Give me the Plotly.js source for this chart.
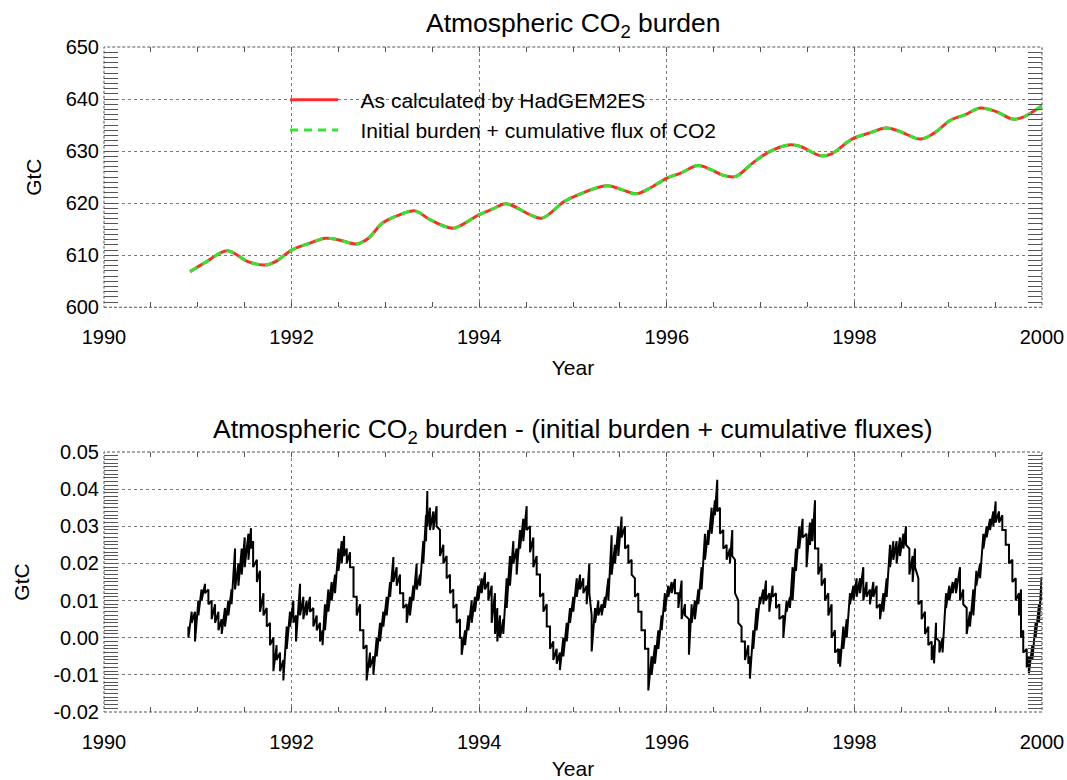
<!DOCTYPE html>
<html>
<head>
<meta charset="utf-8">
<script src="https://cdn.plot.ly/plotly-3.0.1.min.js"></script>
<style>
  html, body { margin: 0; padding: 0; background: #fff; }
  #chart { width: 1067px; height: 780px; }
</style>
</head>
<body>
<div id="chart"></div>
<script>
// top panel: atmospheric CO2 burden (GtC)
var burdenYears = [1990.918, 1991.094, 1991.314, 1991.534, 1991.718, 1991.828, 1992.004, 1992.195, 1992.360, 1992.507,
  1992.691, 1992.820, 1992.966, 1993.150, 1993.316, 1993.480, 1993.719, 1993.848, 1993.995, 1994.141,
  1994.288, 1994.545, 1994.670, 1994.906, 1995.053, 1995.362, 1995.528, 1995.674, 1995.820, 1996.002,
  1996.148, 1996.330, 1996.477, 1996.586, 1996.732, 1996.914, 1997.097, 1997.316, 1997.425, 1997.645,
  1997.755, 1997.974, 1998.156, 1998.339, 1998.485, 1998.704, 1998.850, 1999.032, 1999.179, 1999.342,
  1999.507, 1999.690, 1999.800, 2000.000];
var burdenModel = [606.85, 608.77, 610.88, 608.77, 608.13, 608.77, 611.02, 612.31, 613.27, 612.94,
  612.17, 613.27, 616.15, 617.75, 618.52, 616.79, 615.19, 616.15, 617.75, 618.85,
  619.87, 617.75, 617.12, 620.31, 621.60, 623.33, 622.56, 621.79, 622.88, 624.81,
  625.77, 627.23, 626.40, 625.44, 625.12, 627.69, 629.92, 631.21, 630.88, 629.10,
  629.48, 632.31, 633.46, 634.42, 633.77, 632.31, 633.46, 636.02, 636.98, 638.27,
  637.62, 636.15, 636.54, 638.71];
// the dashed green curve sits on top of the red one at this scale
var burdenFlux = [606.85, 608.77, 610.88, 608.77, 608.13, 608.77, 611.02, 612.31, 613.27, 612.94,
  612.17, 613.27, 616.15, 617.75, 618.52, 616.79, 615.19, 616.15, 617.75, 618.85,
  619.87, 617.75, 617.12, 620.31, 621.60, 623.33, 622.56, 621.79, 622.88, 624.81,
  625.77, 627.23, 626.40, 625.44, 625.12, 627.69, 629.92, 631.21, 630.88, 629.10,
  629.48, 632.31, 633.46, 634.42, 633.77, 632.31, 633.46, 636.02, 636.98, 638.27,
  637.62, 636.15, 636.54, 638.71];

// bottom panel: difference (GtC), noisy band read as upper / lower edge
var diffYears = [1990.900, 1990.935, 1990.970, 1991.006, 1991.040, 1991.077, 1991.113, 1991.148, 1991.184, 1991.220,
  1991.255, 1991.290, 1991.326, 1991.360, 1991.397, 1991.433, 1991.468, 1991.500, 1991.540, 1991.567,
  1991.590, 1991.630, 1991.663, 1991.700, 1991.735, 1991.770, 1991.806, 1991.840, 1991.877, 1991.912,
  1991.948, 1991.983, 1992.019, 1992.047, 1992.090, 1992.125, 1992.160, 1992.196, 1992.232, 1992.268,
  1992.303, 1992.330, 1992.356, 1992.392, 1992.427, 1992.463, 1992.500, 1992.534, 1992.560, 1992.588,
  1992.623, 1992.660, 1992.694, 1992.730, 1992.765, 1992.800, 1992.836, 1992.872, 1992.907, 1992.943,
  1992.978, 1993.014, 1993.050, 1993.085, 1993.120, 1993.156,
  1993.190, 1993.227, 1993.262, 1993.298, 1993.333, 1993.369, 1993.404, 1993.433, 1993.447, 1993.475,
  1993.511, 1993.546, 1993.582, 1993.618, 1993.653, 1993.689, 1993.724, 1993.760, 1993.795, 1993.813,
  1993.849, 1993.884, 1993.920, 1993.955, 1993.990, 1994.026, 1994.062, 1994.097, 1994.133, 1994.168,
  1994.193, 1994.222, 1994.257, 1994.293, 1994.328, 1994.364, 1994.399, 1994.435, 1994.470, 1994.506,
  1994.542, 1994.577, 1994.613, 1994.648, 1994.684, 1994.720, 1994.755, 1994.790, 1994.826, 1994.860,
  1994.897, 1994.933, 1994.968, 1995.003, 1995.040, 1995.075, 1995.110, 1995.146, 1995.174, 1995.199,
  1995.235, 1995.270, 1995.306, 1995.340, 1995.377, 1995.412, 1995.448, 1995.483,
  1995.518, 1995.554, 1995.590, 1995.625, 1995.660, 1995.696, 1995.730, 1995.767, 1995.803, 1995.838,
  1995.874, 1995.910, 1995.945, 1995.980, 1996.016, 1996.052, 1996.087, 1996.123, 1996.158, 1996.194,
  1996.236, 1996.265, 1996.300, 1996.336, 1996.371, 1996.407, 1996.442, 1996.478, 1996.513, 1996.538,
  1996.567, 1996.602, 1996.638, 1996.673, 1996.698, 1996.727, 1996.762, 1996.797, 1996.833, 1996.869,
  1996.886, 1996.922, 1996.957, 1996.993, 1997.029, 1997.057, 1997.093, 1997.128, 1997.164, 1997.200,
  1997.242, 1997.277, 1997.313, 1997.341, 1997.377, 1997.412, 1997.448, 1997.490, 1997.526, 1997.553,
  1997.580, 1997.615, 1997.650, 1997.686, 1997.722, 1997.757, 1997.793, 1997.828,
  1997.847, 1997.882, 1997.918, 1997.953, 1997.989, 1998.024, 1998.060, 1998.095, 1998.130, 1998.166,
  1998.202, 1998.237, 1998.273, 1998.309, 1998.344, 1998.380, 1998.415, 1998.450, 1998.486, 1998.522,
  1998.550, 1998.586, 1998.621, 1998.646, 1998.682, 1998.717, 1998.753, 1998.788, 1998.824, 1998.849,
  1998.870, 1998.906, 1998.940, 1998.977, 1999.012, 1999.048, 1999.083, 1999.126, 1999.160, 1999.197,
  1999.232, 1999.268, 1999.300, 1999.340, 1999.375, 1999.410, 1999.446, 1999.481, 1999.506, 1999.542,
  1999.577, 1999.613, 1999.648, 1999.684, 1999.720, 1999.755, 1999.776, 1999.800, 1999.837, 1999.860,
  1999.897, 1999.932, 1999.968, 1999.996];
var diffUpper = [0.003, 0.007, 0.007, 0.010, 0.013, 0.0145, 0.013, 0.010, 0.009, 0.007,
  0.005, 0.008, 0.010, 0.013, 0.024, 0.020, 0.024, 0.027, 0.028, 0.0295,
  0.026, 0.021, 0.018, 0.012, 0.008, 0.004, 0.000, -0.002, -0.004, -0.006,
  0.003, 0.007, 0.010, 0.006, 0.0145, 0.011, 0.010, 0.011, 0.008, 0.006,
  0.004, 0.002, 0.009, 0.013, 0.015, 0.017, 0.024, 0.026, 0.0274, 0.024,
  0.023, 0.019, 0.011, 0.009, 0.002, -0.002, -0.004, -0.005, 0.000, 0.004,
  0.007, 0.011, 0.015, 0.0217, 0.019, 0.017,
  0.012, 0.009, 0.011, 0.014, 0.0199, 0.017, 0.026, 0.033, 0.0395, 0.035,
  0.034, 0.0354, 0.029, 0.025, 0.022, 0.017, 0.013, 0.009, 0.005, 0.000,
  0.002, 0.006, 0.010, 0.011, 0.014, 0.016, 0.0176, 0.015, 0.014, 0.012,
  0.008, 0.006, 0.005, 0.016, 0.022, 0.026, 0.024, 0.029, 0.032, 0.0354,
  0.030, 0.027, 0.022, 0.017, 0.012, 0.009, 0.003, -0.001, -0.003, -0.004,
  0.000, 0.004, 0.008, 0.011, 0.016, 0.017, 0.016, 0.014, 0.020, 0.006,
  0.008, 0.010, 0.009, 0.011, 0.016, 0.0276, 0.025, 0.030,
  0.0326, 0.030, 0.025, 0.021, 0.016, 0.012, 0.007, 0.002, -0.003, -0.005,
  -0.002, 0.002, 0.006, 0.012, 0.014, 0.015, 0.0158, 0.012, 0.0154, 0.009,
  0.005, 0.009, 0.010, 0.013, 0.019, 0.028, 0.029, 0.035, 0.037, 0.0425,
  0.035, 0.029, 0.025, 0.024, 0.029, 0.021, 0.010, 0.003, -0.001, -0.002,
  -0.005, 0.002, 0.008, 0.011, 0.013, 0.0154, 0.012, 0.014, 0.012, 0.009,
  0.006, 0.010, 0.011, 0.019, 0.024, 0.030, 0.032, 0.028, 0.031, 0.032,
  0.037, 0.024, 0.020, 0.016, 0.012, 0.009, 0.002, -0.003,
  -0.003, 0.003, 0.005, 0.012, 0.014, 0.016, 0.016, 0.019, 0.015, 0.013,
  0.015, 0.014, 0.009, 0.012, 0.016, 0.025, 0.026, 0.026, 0.027, 0.028,
  0.030, 0.024, 0.022, 0.024, 0.016, 0.010, 0.007, 0.003, -0.001, -0.002,
  0.004, -0.001, 0.000, 0.012, 0.014, 0.015, 0.016, 0.019, 0.013, 0.008,
  0.007, 0.013, 0.018, 0.020, 0.028, 0.030, 0.032, 0.034, 0.0367, 0.034,
  0.033, 0.029, 0.025, 0.021, 0.016, 0.012, 0.013, 0.002, -0.003, -0.005,
  -0.002, 0.004, 0.009, 0.0163];
var diffLower = [0.000, 0.004, -0.001, 0.006, 0.010, 0.012, 0.009, 0.005, 0.004, 0.002,
  0.001, 0.003, 0.006, 0.009, 0.013, 0.014, 0.017, 0.019, 0.021, 0.024,
  0.019, 0.015, 0.007, 0.006, 0.003, -0.002, -0.009, -0.006, -0.009, -0.0115,
  -0.003, 0.003, 0.004, -0.001, 0.006, 0.005, 0.006, 0.007, 0.003, 0.002,
  -0.001, -0.002, 0.002, 0.007, 0.010, 0.012, 0.018, 0.020, 0.022, 0.020,
  0.019, 0.011, 0.006, 0.002, -0.003, -0.0115, -0.008, -0.010, -0.005, -0.001,
  0.003, 0.006, 0.011, 0.015, 0.014, 0.012,
  0.008, 0.004, 0.006, 0.010, 0.013, 0.014, 0.020, 0.026, 0.030, 0.029,
  0.029, 0.030, 0.022, 0.020, 0.016, 0.012, 0.008, 0.004, 0.000, -0.0046,
  -0.002, 0.002, 0.004, 0.007, 0.010, 0.012, 0.013, 0.010, 0.004, 0.001,
  -0.001, 0.000, 0.001, 0.008, 0.014, 0.020, 0.017, 0.024, 0.026, 0.029,
  0.023, 0.019, 0.017, 0.011, 0.007, 0.003, -0.003, -0.006, -0.007, -0.0087,
  -0.005, -0.001, 0.004, 0.007, 0.011, 0.013, 0.012, 0.009, 0.012, -0.0037,
  0.004, 0.006, 0.006, 0.008, 0.010, 0.017, 0.020, 0.022,
  0.027, 0.024, 0.020, 0.017, 0.011, 0.007, 0.002, -0.003, -0.0142, -0.010,
  -0.007, -0.003, 0.002, 0.007, 0.011, 0.012, 0.012, 0.008, 0.005, 0.006,
  -0.0046, 0.004, 0.005, 0.009, 0.013, 0.021, 0.025, 0.028, 0.033, 0.034,
  0.028, 0.024, 0.021, 0.020, 0.022, 0.012, 0.004, -0.001, -0.006, -0.007,
  -0.011, -0.003, 0.002, 0.009, 0.009, 0.010, 0.007, 0.011, 0.008, 0.005,
  0.000, 0.007, 0.008, 0.010, 0.018, 0.024, 0.027, 0.019, 0.025, 0.026,
  0.024, 0.017, 0.014, 0.010, 0.006, 0.000, -0.004, -0.007,
  -0.0078, -0.003, 0.000, 0.009, 0.010, 0.011, 0.012, 0.010, 0.011, 0.009,
  0.011, 0.008, 0.005, 0.007, 0.011, 0.019, 0.021, 0.020, 0.022, 0.024,
  0.025, 0.017, 0.015, 0.019, 0.009, 0.005, 0.001, -0.002, -0.006, -0.0069,
  0.000, -0.004, -0.004, 0.008, 0.010, 0.012, 0.012, 0.010, 0.009, 0.001,
  0.003, 0.006, 0.014, 0.016, 0.024, 0.027, 0.029, 0.030, 0.031, 0.031,
  0.029, 0.025, 0.020, 0.015, 0.010, 0.006, 0.000, -0.004, -0.008, -0.0096,
  -0.006, 0.000, 0.004, 0.010];

var topTickVals = [600, 610, 620, 630, 640, 650];
var topTickText = ['600', '610', '620', '630', '640', '650'];
var bottomTickVals = [-0.02, -0.01, 0.00, 0.01, 0.02, 0.03, 0.04, 0.05];
var bottomTickText = ['-0.02', '-0.01', '0.00', '0.01', '0.02', '0.03', '0.04', '0.05'];

// the noisy line: at each reading go top edge -> bottom edge
var noiseX = [], noiseY = [];
for (var i = 0; i < diffYears.length; i++) {
  noiseX.push(diffYears[i], diffYears[i]);
  noiseY.push(diffUpper[i], diffLower[i]);
}

var FONT = 'Liberation Sans, Arial, Helvetica, sans-serif';
var gridCol = '#7a7a7a';
var tickCol = '#555';
var NB = '\u00a0\u00a0\u00a0';   // gap between legend line and its text

function xAxis(anchor) {
  return {
    anchor: anchor, range: [1990, 2000], tick0: 1990, dtick: 2,
    ticks: 'inside', ticklen: 5, tickcolor: tickCol, mirror: 'ticks',
    showgrid: true, gridcolor: gridCol, griddash: '3px,3px', gridwidth: 1,
    zeroline: false, showline: false, ticklabelstandoff: 16,
    tickfont: { size: 20 },
    minor: { dtick: 0.5, ticks: 'inside', ticklen: 5, tickcolor: tickCol, showgrid: false },
    title: { text: 'Year', font: { size: 21 }, standoff: 13 }
  };
}
function yAxis(anchor, domain, range, vals, text, minorStep) {
  return {
    anchor: anchor, domain: domain, range: range,
    tickmode: 'array', tickvals: vals, ticktext: text,
    ticks: 'inside', ticklen: 14, tickcolor: tickCol, mirror: 'ticks',
    showgrid: true, gridcolor: gridCol, griddash: '3px,3px', gridwidth: 1,
    zeroline: false, showline: false, ticklabelstandoff: 4,
    tickfont: { size: 20 },
    minor: { tickmode: 'linear', tick0: range[0], dtick: minorStep, ticks: 'inside', ticklen: 14, tickcolor: tickCol, showgrid: false },
    title: { text: 'GtC', font: { size: 21 }, standoff: 18 }
  };
}

var traces = [
  { x: burdenYears, y: burdenModel, xaxis: 'x', yaxis: 'y', mode: 'lines',
    name: NB + 'As calculated by HadGEM2ES',
    line: { color: '#ff2b2b', width: 3, shape: 'spline' } },
  { x: burdenYears, y: burdenFlux, xaxis: 'x', yaxis: 'y', mode: 'lines',
    name: NB + 'Initial burden + cumulative flux of CO2',
    line: { color: '#2ee82e', width: 3, dash: '8px,6px', shape: 'spline' } },
  { x: noiseX, y: noiseY, xaxis: 'x2', yaxis: 'y2', mode: 'lines', showlegend: false,
    line: { color: '#000', width: 2 } }
];

function frame(xr, yr) {
  return { type: 'rect', xref: xr + ' domain', yref: yr + ' domain', x0: 0, x1: 1, y0: 0, y1: 1,
    line: { color: '#555', width: 1, dash: '3px,2px' }, layer: 'above' };
}

var layout = {
  width: 1067, height: 780,
  margin: { l: 104, r: 25, t: 47, b: 68 },
  paper_bgcolor: '#fff', plot_bgcolor: '#fff',
  font: { family: FONT, color: '#000', size: 20 },
  showlegend: true,
  legend: { x: 0.193, y: 0.951, xanchor: 'left', yanchor: 'top', bgcolor: 'rgba(0,0,0,0)',
    font: { size: 21 }, itemwidth: 48, tracegroupgap: 0 },
  xaxis: xAxis('y'),
  yaxis: yAxis('x', [0.6086, 1], [600, 650], topTickVals, topTickText, 1),
  xaxis2: xAxis('y2'),
  yaxis2: yAxis('x2', [0, 0.391], [-0.02, 0.05], bottomTickVals, bottomTickText, 0.001),
  shapes: [frame('x', 'y'), frame('x2', 'y2')],
  annotations: [
    { text: 'Atmospheric CO<sub>2</sub> burden', xref: 'paper', yref: 'paper', x: 0.5, y: 1.033,
      xanchor: 'center', yanchor: 'middle', showarrow: false, font: { size: 26.5 } },
    { text: 'Atmospheric CO<sub>2</sub> burden - (initial burden + cumulative fluxes)', xref: 'paper', yref: 'paper',
      x: 0.5, y: 0.4226, xanchor: 'center', yanchor: 'middle', showarrow: false, font: { size: 26.5 } }
  ]
};

Plotly.newPlot('chart', traces, layout, { staticPlot: true });
</script>
</body>
</html>
